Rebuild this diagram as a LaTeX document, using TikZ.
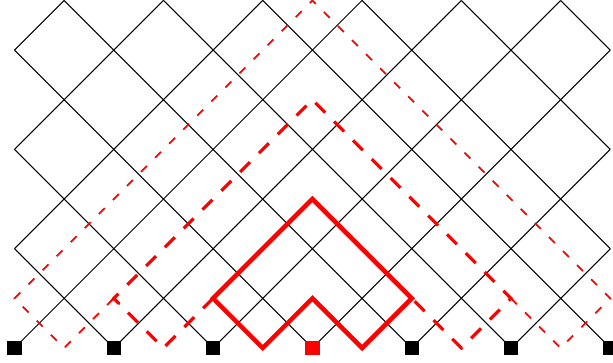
\documentclass[tikz,border=0pt]{standalone}
\begin{document}
\begin{tikzpicture}[x=1cm,y=1cm,
  grid/.style={draw=black,line width=0.6pt},
  sq/.style={rectangle,fill=black,minimum size=8.2pt,inner sep=0pt},
  redsq/.style={sq,fill=red},
  thinred/.style={draw=red,line width=1pt,dash pattern=on 4.8pt off 6.6pt},
  midred/.style={draw=red,line width=1.8pt,dash pattern=on 8.02pt off 7.22pt},
  boldred/.style={draw=red,line width=2.6pt,line join=miter}]
\useasboundingbox (-0.292,-0.302) rectangle (12.054,7.009);
% lattice
\foreach \a/\b/\c/\d in {0/6/1/7,0/4/3/7,0/2/5/7,0/0/7/7,2/0/9/7,4/0/11/7,6/0/12/6,8/0/12/4,10/0/12/2}
  \draw[grid] (\a,\b) -- (\c,\d);
\foreach \a/\b/\c/\d in {0/2/2/0,0/4/4/0,0/6/6/0,1/7/8/0,3/7/10/0,5/7/12/0,7/7/12/2,9/7/12/4,11/7/12/6}
  \draw[grid] (\a,\b) -- (\c,\d);
% red paths
\draw[thinred] (10,1) -- (11,0) -- (12,1) -- (6,7) -- (0,1) -- (1,0) -- (2,1);
\draw[draw=red,line width=1pt] (1.93,0.93) -- (2,1) -- (2.12,0.88);
\draw[midred] (4,1) -- (3,0) -- (2,1) -- (6,5) -- (10,1) -- (9,0) -- (8,1);
\draw[boldred] (4,1) -- (5,0) -- (6,1) -- (7,0) -- (8,1) -- (6,3) -- cycle;
% sites
\node[sq] (s0) at (0,0) {};
\node[sq] (s1) at (2,0) {};
\node[sq] (s2) at (4,0) {};
\node[redsq] (s3) at (6,0) {};
\node[sq] (s4) at (8,0) {};
\node[sq] (s5) at (10,0) {};
\node[sq] (s6) at (12,0) {};
\end{tikzpicture}
\end{document}
